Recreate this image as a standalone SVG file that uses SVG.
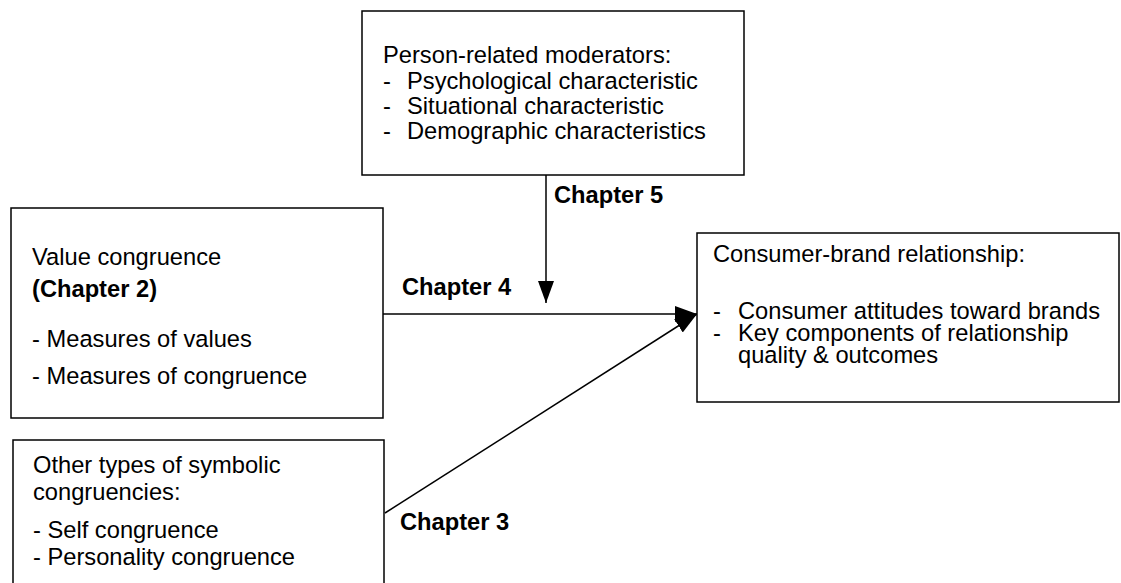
<svg xmlns="http://www.w3.org/2000/svg" width="1121" height="583" viewBox="0 0 1121 583">
<style>
.box{fill:#fff;stroke:#000;stroke-width:1.5}
.t{font-family:"Liberation Sans",Arial,sans-serif;font-size:23.7px;fill:#000}
.b{font-family:"Liberation Sans",Arial,sans-serif;font-size:23.7px;font-weight:bold;fill:#000}
.c{stroke:#000;stroke-width:1.5;fill:none}
</style>
<defs>
<marker id="ah" markerUnits="userSpaceOnUse" markerWidth="24" markerHeight="18" refX="22" refY="8" orient="auto" viewBox="0 0 24 18">
<path d="M0,0 L22,8 L0,16 Z" fill="#000"/>
</marker>
</defs>
<rect width="1121" height="583" fill="#fff"/>
<g id="connectors">
<line class="c" x1="546" y1="175" x2="546" y2="303" marker-end="url(#ah)"/>
<line class="c" x1="383" y1="314" x2="697" y2="314" marker-end="url(#ah)"/>
<line class="c" x1="385" y1="513" x2="697" y2="314" marker-end="url(#ah)"/>
<text class="b" x="554" y="203">Chapter 5</text>
<text class="b" x="402" y="295">Chapter 4</text>
<text class="b" x="400" y="530">Chapter 3</text>
</g>
<g id="moderators">
<rect class="box" x="362" y="11" width="382" height="164"/>
<text class="t" x="383" y="63">Person-related moderators:</text>
<text class="t" x="383" y="89">-</text><text class="t" x="407" y="89">Psychological characteristic</text>
<text class="t" x="383" y="114">-</text><text class="t" x="407" y="114">Situational characteristic</text>
<text class="t" x="383" y="139">-</text><text class="t" x="407" y="139">Demographic characteristics</text>
</g>
<g id="value">
<rect class="box" x="11" y="208" width="372" height="210"/>
<text class="t" x="32" y="265">Value congruence</text>
<text class="b" x="32" y="297">(Chapter 2)</text>
<text class="t" x="32" y="347">- Measures of values</text>
<text class="t" x="32" y="384">- Measures of congruence</text>
</g>
<g id="other">
<rect class="box" x="13" y="440" width="371" height="160"/>
<text class="t" x="33" y="473">Other types of symbolic</text>
<text class="t" x="33" y="500">congruencies:</text>
<text class="t" x="33" y="538">- Self congruence</text>
<text class="t" x="33" y="565">- Personality congruence</text>
</g>
<g id="relationship">
<rect class="box" x="697" y="233" width="422" height="169"/>
<text class="t" x="713" y="262">Consumer-brand relationship:</text>
<text class="t" x="713" y="319">-</text><text class="t" x="738" y="319">Consumer attitudes toward brands</text>
<text class="t" x="713" y="341">-</text><text class="t" x="738" y="341">Key components of relationship</text>
<text class="t" x="738" y="363">quality &amp; outcomes</text>
</g>
</svg>
